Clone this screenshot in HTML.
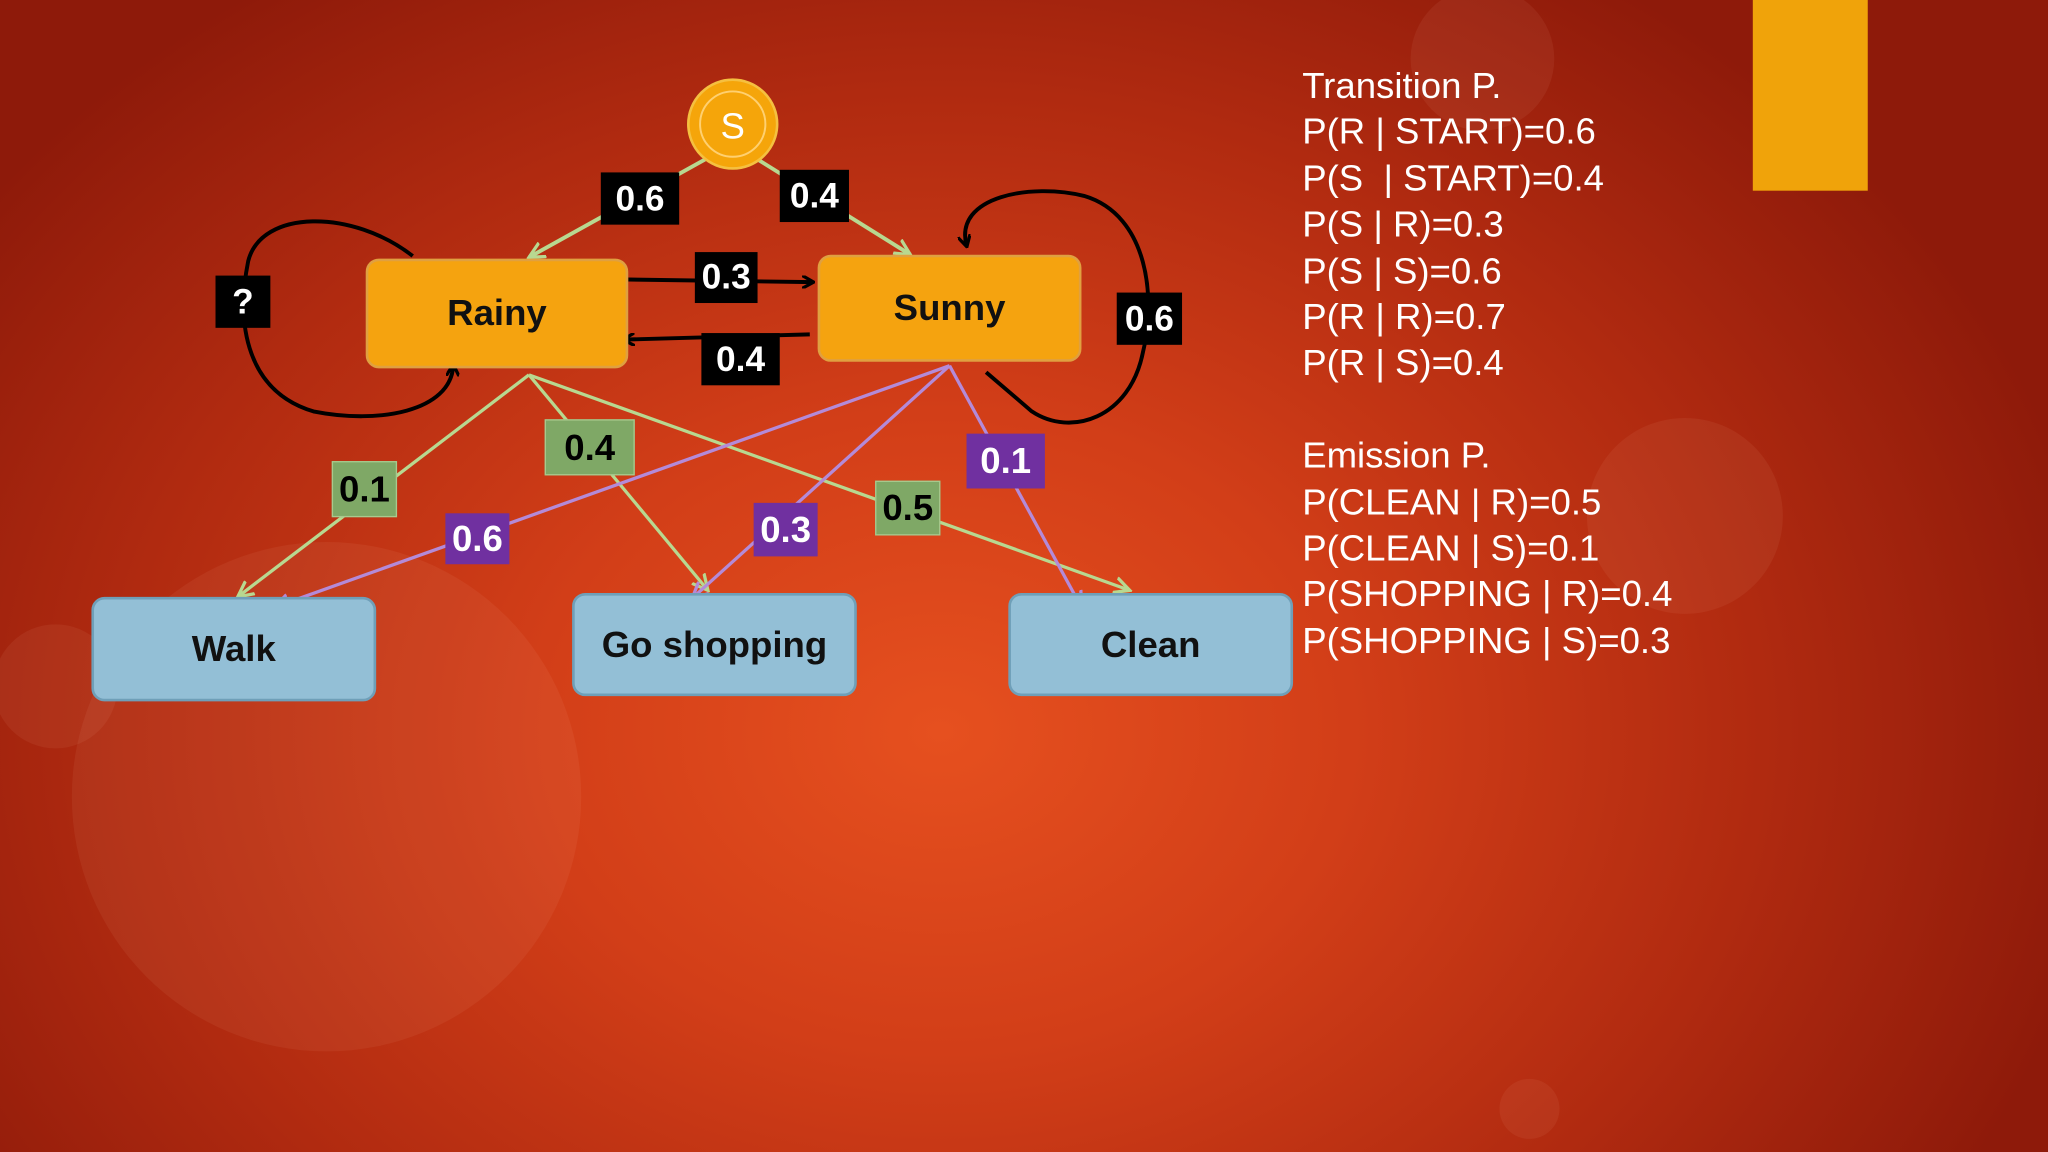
<!DOCTYPE html>
<html><head><meta charset="utf-8"><style>
html,body{margin:0;padding:0;overflow:hidden;width:2048px;height:1152px;}
#w{width:1568px;height:882px;transform:scale(1.30612);transform-origin:0 0;position:relative;overflow:hidden;
background:radial-gradient(ellipse 900px 700px at 720px 560px,#e6501f 0%,#d23e18 35%,#b02a10 70%,#8e1a0a 100%);
font-family:"Liberation Sans",sans-serif;}
.c{position:absolute;border-radius:50%;background:rgba(255,200,170,0.07);}
.lb{position:absolute;color:#fff;font-weight:bold;font-size:27px;display:flex;align-items:center;justify-content:center;}
.k{background:#000}.g{background:#7fa866;border:1px solid #a9c98e;box-sizing:border-box;font-size:28px}.p{background:#7030a0;font-size:28px}
.n{position:absolute;box-sizing:border-box;border-radius:10px;display:flex;align-items:center;justify-content:center;font-weight:bold;font-size:28px;color:#111;}
.o{background:#f5a30f;border:2px solid #e0a040}.b{background:#93bfd6;border:2px solid #6f9fb8}
#t{position:absolute;left:997px;top:48px;color:#fff;font-size:28px;line-height:35.4px;white-space:pre;}
</style></head><body><div id="w">
<div class="c" style="left:55px;top:415px;width:390px;height:390px"></div>
<div class="c" style="left:1215px;top:320px;width:150px;height:150px"></div>
<div class="c" style="left:1080px;top:-10px;width:110px;height:110px"></div>
<div class="c" style="left:-5px;top:478px;width:95px;height:95px"></div>
<div class="c" style="left:1148px;top:826px;width:46px;height:46px"></div>
<div style="position:absolute;left:1342px;top:0;width:88px;height:146px;background:#f0a30a"></div>
<svg style="position:absolute;left:0;top:0" width="1568" height="882">
<defs>
<marker id="ab" markerWidth="10" markerHeight="10" refX="8" refY="5" orient="auto" markerUnits="userSpaceOnUse"><path d="M0,0 L9,5 L0,10" fill="none" stroke="#000" stroke-width="2.5"/></marker>
<marker id="ag" markerWidth="14" markerHeight="14" refX="12" refY="7" orient="auto" markerUnits="userSpaceOnUse"><path d="M0,1 L12,7 L0,13" fill="none" stroke="#b8d890" stroke-width="2.5"/></marker>
<marker id="ap" markerWidth="14" markerHeight="14" refX="12" refY="7" orient="auto" markerUnits="userSpaceOnUse"><path d="M0,1 L12,7 L0,13" fill="none" stroke="#b48ad8" stroke-width="2.5"/></marker>
</defs>
<g fill="none" stroke-width="3">
<line x1="540" y1="122" x2="405" y2="197" stroke="#b8d890" marker-end="url(#ag)"/>
<line x1="580" y1="122" x2="697" y2="195" stroke="#b8d890" marker-end="url(#ag)"/>
<line x1="481" y1="214" x2="622" y2="216" stroke="#000" marker-end="url(#ab)"/>
<line x1="620" y1="256" x2="478" y2="260" stroke="#000" marker-end="url(#ab)"/>
<path d="M316,196 C270,160 200,160 190,200 C180,250 190,300 240,315 C290,325 345,315 347,280" stroke="#000" marker-end="url(#ab)"/>
<path d="M755,285 L790,315 C820,335 865,320 875,270 C885,230 880,165 830,150 C790,140 730,150 740,188" stroke="#000" marker-end="url(#ab)"/>
<g stroke-width="2.5">
<line x1="405" y1="287" x2="182" y2="457" stroke="#b8d890" marker-end="url(#ag)"/>
<line x1="405" y1="287" x2="542" y2="452" stroke="#b8d890" marker-end="url(#ag)"/>
<line x1="405" y1="287" x2="865" y2="452" stroke="#b8d890" marker-end="url(#ag)"/>
<line x1="727" y1="280" x2="210" y2="465" stroke="#b48ad8" marker-end="url(#ap)"/>
<line x1="727" y1="280" x2="530" y2="458" stroke="#b48ad8" marker-end="url(#ap)"/>
<line x1="727" y1="280" x2="828" y2="465" stroke="#b48ad8" marker-end="url(#ap)"/>
</g></g>
<circle cx="561" cy="95" r="34" fill="#f5a50a" stroke="#f5c040" stroke-width="2"/>
<circle cx="561" cy="95" r="25" fill="none" stroke="#ffd070" stroke-width="1.5"/>
<text x="561" y="106" fill="#fff" font-size="28" text-anchor="middle" font-family="Liberation Sans, sans-serif">S</text>
</svg>
<div class="n o" style="left:280px;top:198px;width:201px;height:84px">Rainy</div>
<div class="n o" style="left:626px;top:195px;width:202px;height:82px">Sunny</div>
<div class="n b" style="left:70px;top:457px;width:218px;height:80px">Walk</div>
<div class="n b" style="left:438px;top:454px;width:218px;height:79px">Go shopping</div>
<div class="n b" style="left:772px;top:454px;width:218px;height:79px">Clean</div>
<div class="lb k" style="left:460px;top:132px;width:60px;height:40px">0.6</div>
<div class="lb k" style="left:597px;top:130px;width:53px;height:40px">0.4</div>
<div class="lb k" style="left:532px;top:193px;width:48px;height:39px">0.3</div>
<div class="lb k" style="left:537px;top:255px;width:60px;height:40px">0.4</div>
<div class="lb k" style="left:855px;top:224px;width:50px;height:40px">0.6</div>
<div class="lb k" style="left:165px;top:211px;width:42px;height:40px">?</div>
<div class="lb g" style="left:254px;top:353px;width:50px;height:43px;color:#000">0.1</div>
<div class="lb g" style="left:417px;top:321px;width:69px;height:43px;color:#000">0.4</div>
<div class="lb g" style="left:670px;top:368px;width:50px;height:42px;color:#000">0.5</div>
<div class="lb p" style="left:341px;top:393px;width:49px;height:39px">0.6</div>
<div class="lb p" style="left:577px;top:385px;width:49px;height:41px">0.3</div>
<div class="lb p" style="left:740px;top:332px;width:60px;height:42px">0.1</div>
<div id="t">Transition P.
P(R | START)=0.6
P(S  | START)=0.4
P(S | R)=0.3
P(S | S)=0.6
P(R | R)=0.7
P(R | S)=0.4

Emission P.
P(CLEAN | R)=0.5
P(CLEAN | S)=0.1
P(SHOPPING | R)=0.4
P(SHOPPING | S)=0.3</div>
</div></body></html>
